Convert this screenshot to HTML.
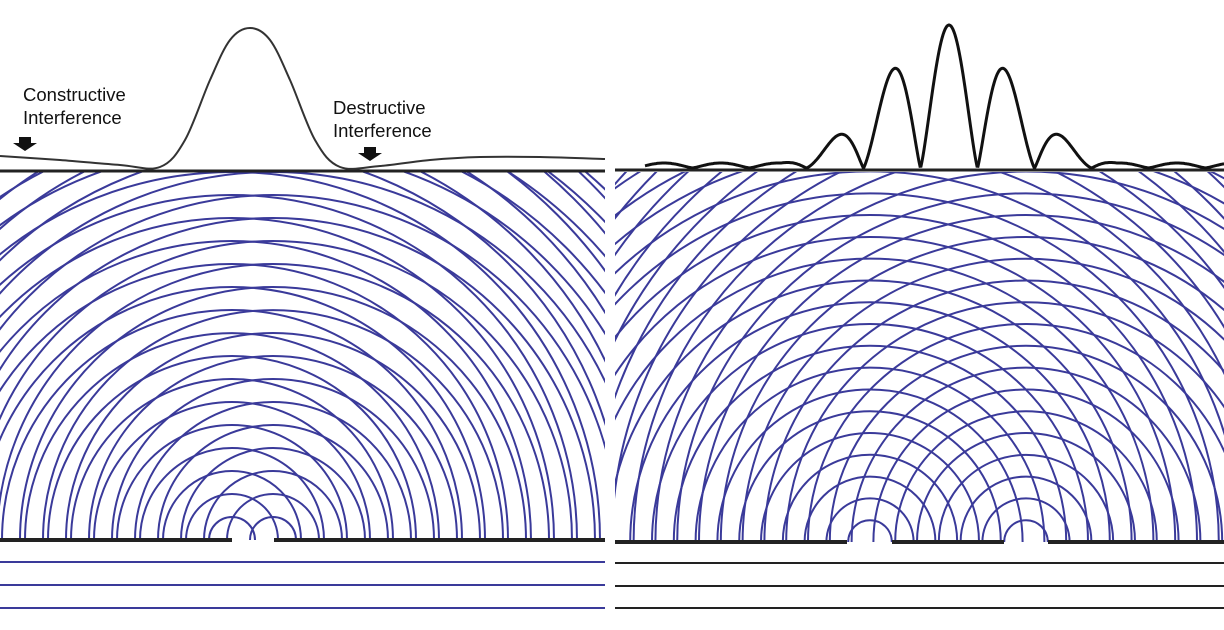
<!DOCTYPE html>
<html><head><meta charset="utf-8">
<style>
html,body{margin:0;padding:0;background:#fff;}
svg{display:block;}
text{font-family:"Liberation Sans",sans-serif;font-size:18.5px;fill:#111;}
</style></head>
<body>
<svg id="fig" width="1224" height="630" viewBox="0 0 1224 630" xmlns="http://www.w3.org/2000/svg">
<defs>
<clipPath id="clipL"><rect x="0" y="172" width="605" height="368"/></clipPath>
<clipPath id="clipR"><rect x="615" y="172" width="609" height="370"/></clipPath>
</defs>
<g id="wavesL" clip-path="url(#clipL)"></g>
<g id="wavesR" clip-path="url(#clipR)"></g>

<line x1="0" y1="540" x2="232" y2="540" stroke="#222" stroke-width="4"/>
<line x1="274" y1="540" x2="605" y2="540" stroke="#222" stroke-width="4"/>
<g stroke="#3a3a9a" stroke-width="2">
<line x1="0" y1="562" x2="605" y2="562"/><line x1="0" y1="585" x2="605" y2="585"/><line x1="0" y1="608" x2="605" y2="608"/>
</g>
<g stroke="#222" stroke-width="4">
<line x1="615" y1="542" x2="847" y2="542"/><line x1="892" y1="542" x2="1004" y2="542"/><line x1="1048" y1="542" x2="1224" y2="542"/>
</g>
<g stroke="#222" stroke-width="2">
<line x1="615" y1="563" x2="1224" y2="563"/><line x1="615" y1="586" x2="1224" y2="586"/><line x1="615" y1="608" x2="1224" y2="608"/>
</g>

<line x1="0" y1="171" x2="605" y2="171" stroke="#222" stroke-width="3"/>
<line x1="615" y1="170" x2="1224" y2="170" stroke="#222" stroke-width="3"/>

<path id="curveL" fill="none" stroke="#333" stroke-width="2"/>
<path id="curveR" fill="none" stroke="#111" stroke-width="3"/>

<text x="23" y="101">Constructive</text>
<text x="23" y="124">Interference</text>
<polygon points="19,137 31,137 31,143 37,143 25,151 13,143 19,143" fill="#111"/>
<text x="333" y="114">Destructive</text>
<text x="333" y="137">Interference</text>
<polygon points="364,147 376,147 376,153 382,153 370,161 358,153 364,153" fill="#111"/>
</svg>
<script>
const NS="http://www.w3.org/2000/svg";
const leftSources=[232,273];
const rightSources=[870,1026];
const spacingL=23, spacingR=21.8;
const curveLX=[0,60,120,160,185,210,230,250,270,290,315,340,380,430,480,540,605];
const curveLY=[156,160,165,167,140,80,40,28,40,80,140,167,166,160,157,157,159];
function arcs(g,sources,y0,sp){
  sources.forEach(cx=>{
    for(let r=sp;r<760;r+=sp){
      const p=document.createElementNS(NS,'path');
      p.setAttribute('d',`M${cx-r},${y0} A${r},${r} 0 0 1 ${cx+r},${y0}`);
      p.setAttribute('fill','none');p.setAttribute('stroke','#3a3a9a');p.setAttribute('stroke-width','2');
      
      
      g.appendChild(p);
    }
  });
}
arcs(document.getElementById('wavesL'),leftSources,540,spacingL);
arcs(document.getElementById('wavesR'),rightSources,542,spacingR);
let d=`M${curveLX[0]},${curveLY[0]}`;
for(let i=0;i<curveLX.length-1;i++){
  const x0=curveLX[Math.max(i-1,0)],y0=curveLY[Math.max(i-1,0)];
  const x1=curveLX[i],y1=curveLY[i],x2=curveLX[i+1],y2=curveLY[i+1];
  const x3=curveLX[Math.min(i+2,curveLX.length-1)],y3=curveLY[Math.min(i+2,curveLY.length-1)];
  d+=` C${x1+(x2-x0)/6},${y1+(y2-y0)/6} ${x2-(x3-x1)/6},${y2-(y3-y1)/6} ${x2},${y2}`;
}
document.getElementById('curveL').setAttribute('d',d);
let dr='';
for(let x=645;x<=1224;x+=1){
  const dx=x-949;
  let A=143*Math.exp(-(dx/92)*(dx/92));
  if(Math.abs(dx)>150)A=Math.max(A,5);
  const c=Math.abs(Math.cos(Math.PI*dx/57));
  const y=168-A*Math.pow(c,1.2);
  dr+=(x===645?'M':'L')+x+','+y.toFixed(1)+' ';
}
document.getElementById('curveR').setAttribute('d',dr);
</script>
</body></html>
